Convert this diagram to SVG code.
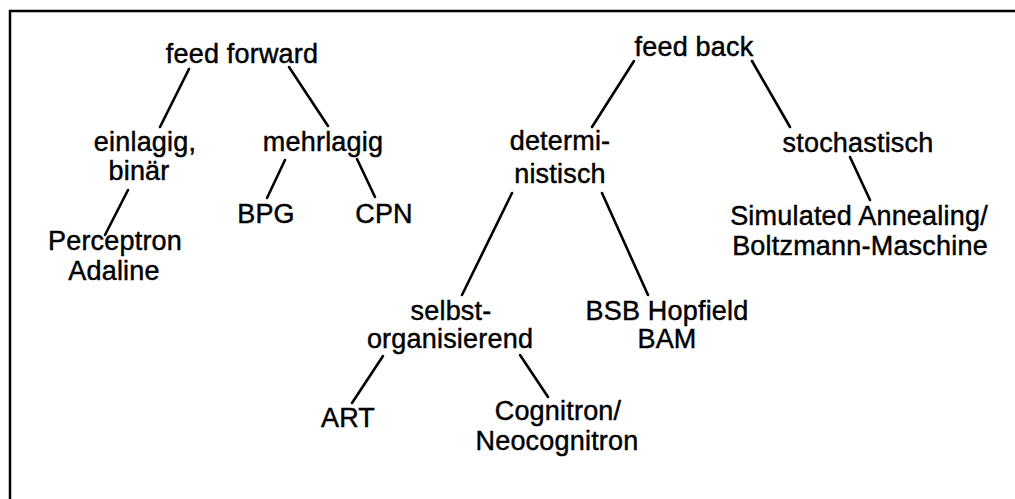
<svg xmlns="http://www.w3.org/2000/svg" width="1015" height="499" viewBox="0 0 1015 499">
<style>
text{font-family:"Liberation Sans",Arial,Helvetica,sans-serif;font-size:27px;letter-spacing:0.2px;fill:#000;stroke:#000;stroke-width:0.45;text-anchor:middle}
.c line{stroke:#000;stroke-width:2.6;stroke-linecap:round}
.frame{stroke:#000;stroke-width:2.5;fill:none}
</style>
<rect x="0" y="0" width="1015" height="499" fill="#fff"/>
<path class="frame" d="M10 499 V11 H1015"/>
<g id="connectors" class="c">
<line x1="189" y1="69" x2="160" y2="127"/>
<line x1="289" y1="67" x2="328" y2="126"/>
<line x1="128" y1="190" x2="105" y2="235"/>
<line x1="285" y1="160" x2="267" y2="198"/>
<line x1="357" y1="159" x2="375" y2="197"/>
<line x1="634" y1="61" x2="592" y2="127"/>
<line x1="752" y1="61" x2="790" y2="127"/>
<line x1="850" y1="157" x2="870" y2="200"/>
<line x1="512" y1="193" x2="462" y2="295"/>
<line x1="602" y1="193" x2="648" y2="295"/>
<line x1="383" y1="356" x2="352" y2="403"/>
<line x1="520" y1="355" x2="548" y2="397"/>
</g>
<g id="n-feedforward"><text x="242" y="63">feed forward</text></g>
<g id="n-einlagig"><text x="145" y="151">einlagig,</text><text x="139" y="180">binär</text></g>
<g id="n-mehrlagig"><text x="323" y="151">mehrlagig</text></g>
<g id="n-perceptron"><text x="115" y="250">Perceptron</text><text x="114" y="280">Adaline</text></g>
<g id="n-bpg"><text x="266" y="223">BPG</text></g>
<g id="n-cpn"><text x="384" y="223">CPN</text></g>
<g id="n-feedback"><text x="694" y="56">feed back</text></g>
<g id="n-deterministisch"><text x="560" y="150">determi-</text><text x="560" y="183">nistisch</text></g>
<g id="n-stochastisch"><text x="858" y="152">stochastisch</text></g>
<g id="n-simulated"><text x="859" y="225">Simulated Annealing/</text><text x="860" y="255">Boltzmann-Maschine</text></g>
<g id="n-selbst"><text x="451" y="320">selbst-</text><text x="450" y="348">organisierend</text></g>
<g id="n-bsb"><text x="667" y="320">BSB Hopfield</text><text x="667" y="348">BAM</text></g>
<g id="n-art"><text x="348" y="427">ART</text></g>
<g id="n-cognitron"><text x="558" y="420">Cognitron/</text><text x="557" y="450">Neocognitron</text></g>
</svg>
